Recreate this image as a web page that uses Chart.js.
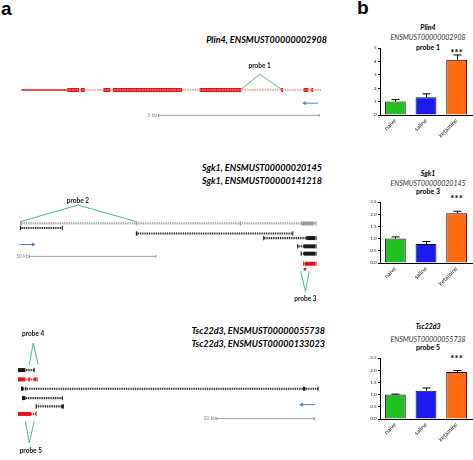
<!DOCTYPE html>
<html><head><meta charset="utf-8">
<script src="https://cdn.jsdelivr.net/npm/chart.js@4.4.1/dist/chart.umd.min.js"></script>
<style>
html,body{margin:0;padding:0;background:#fff;}
body{width:473px;height:460px;position:relative;overflow:hidden;font-family:Lato,"Liberation Sans",sans-serif;}
canvas{position:absolute;}
.t{position:absolute;white-space:nowrap;line-height:1;color:#000;}
.c{transform:translateX(-50%);}
</style></head><body>
<div class="t" style="left:1px;top:-2px;font:bold 19px 'Liberation Sans';">a</div>
<div class="t" style="left:357px;top:-3px;font:bold 19px 'Liberation Sans';">b</div>

<div class="t" style="right:146px;top:33.5px;font:italic bold 9px Lato;">Plin4, ENSMUST00000002908</div>
<div class="t" style="right:151px;top:161.5px;font:italic bold 9px Lato;">Sgk1, ENSMUST00000020145</div>
<div class="t" style="right:151px;top:174.5px;font:italic bold 9px Lato;">Sgk1, ENSMUST00000141218</div>
<div class="t" style="right:148px;top:324.5px;font:italic bold 9px Lato;">Tsc22d3, ENSMUST00000055738</div>
<div class="t" style="right:148px;top:337.5px;font:italic bold 9px Lato;">Tsc22d3, ENSMUST00000133023</div>

<div class="t c" style="left:428px;top:22.5px;font:italic bold 7px Lato;">Plin4</div>
<div class="t c" style="left:428px;top:32.5px;font:italic 7px Lato;color:#333;">ENSMUST00000002908</div>
<div class="t c" style="left:428px;top:42.5px;font:bold 7px Lato;">probe 1</div>
<div class="t c" style="left:428px;top:169px;font:italic bold 7px Lato;">Sgk1</div>
<div class="t c" style="left:428px;top:178.5px;font:italic 7px Lato;color:#333;">ENSMUST00000020145</div>
<div class="t c" style="left:428px;top:186.5px;font:bold 7px Lato;">probe 3</div>
<div class="t c" style="left:428px;top:322px;font:italic bold 7px Lato;">Tsc22d3</div>
<div class="t c" style="left:428px;top:334.5px;font:italic 7px Lato;color:#333;">ENSMUST00000055738</div>
<div class="t c" style="left:428px;top:342.5px;font:bold 7px Lato;">probe 5</div>

<canvas id="trkPlin4" width="360" height="80" style="left:0;top:50px"></canvas>
<canvas id="trkSgk1" width="360" height="120" style="left:0;top:190px"></canvas>
<canvas id="trkTsc" width="360" height="150" style="left:0;top:310px"></canvas>
<canvas id="barPlin4" width="105" height="107" style="left:368px;top:36px"></canvas>
<canvas id="barSgk1" width="105" height="103" style="left:368px;top:188px"></canvas>
<canvas id="barTsc" width="105" height="103" style="left:368px;top:344px"></canvas>

<script>
// ---------- panel b data ----------
const groups = ['naive', 'saline', 'ketamine'];
const plin4Means = [1.0, 1.33, 4.13];
const plin4Err = [0.15, 0.25, 0.35];
const plin4Ticks = ['0', '1', '2', '3', '4', '5'];
const sgk1Means = [1.0, 0.78, 2.04];
const sgk1Err = [0.07, 0.10, 0.08];
const tscMeans = [1.0, 1.16, 1.93];
const tscErr = [0.02, 0.11, 0.06];
const halfTicks = ['0.0', '0.5', '1.0', '1.5', '2.0', '2.5'];
const sigMarks = ['', '', '***'];

// ---------- panel a data (genomic positions in kb) ----------
const plin4Utr = [0, 1.42];
const plin4Span = [1.42, 9.33];
const plin4Exons = [[1.42,1.79],[1.85,1.97],[2.55,2.76],[2.85,5.0],[5.55,6.85],[8.09,8.15],[8.79,8.94],[9.03,9.09]];
const plin4ProbeX = [6.85, 7.42, 8.09];
const plin4Arrow = [9.24, 8.82];
const plin4Scale = [4.27, 9.27];

const sgk1Starts = [0, 0, 45.8, 96.2, 109.6, 111, 112];
const sgk1Ends = [116.9, 16.5, 107.7, 116.9, 116.9, 116.9, 116.9];
const sgk1Exons = [[[0,0.4],[45.6,46.1],[86.7,87.2],[111,116]], [], [[45.8,46.2]], [[113,116.5]], [[112,116.5]], [[112,116.5]], [[112.5,116.5]]];
const sgk1Probed = [false, false, false, false, false, false, true];
const sgk1Probe2X = [0, 22.7, 45.8];
const sgk1Probe3X = [110.8, 112.7, 114.2];
const sgk1Arrow = [-0.4, 5.0];
const sgk1Scale = [3.5, 53.5];

const tscStarts = [0, 0, 0.6, 0.8, 3.6, 0];
const tscEnds = [3.2, 3.8, 61.6, 9.0, 9.2, 3.6];
const tscExons = [[[0,1.4]], [[0,1.4],[2.0,2.3],[3.2,3.6]], [[0.6,1.0],[1.4,1.6],[58.5,59.0]], [[0.8,1.4]], [[8.8,9.2]], [[0,2.6]]];
const tscProbed = [false, true, false, false, false, true];
const tscProbe4X = [2.2, 3.0, 4.0];
const tscProbe5X = [1.4, 2.2, 3.2];
const tscArrow = [61.0, 58.2];
const tscScale = [40.8, 60.8];

// ---------- styles / layout ----------
const RED = '#e3141b', INTRON = '#f08585', BLACK = '#1a1a1a', GRAYT = '#9d9d9d';
const GREEN = '#20a860', BLUE = '#4f7fc0', SCALEGRAY = '#8a8a8a';
const barColors = ['#22c022', '#1c1cf2', '#ff6a14'];

function line(xs, ys, color, width, extra) {
  return Object.assign({
    data: xs.map((x, i) => ({ x, y: ys[i] })), showLine: true, borderColor: color,
    backgroundColor: color, borderWidth: width, pointRadius: 0, borderCapStyle: 'butt',
    borderJoinStyle: 'miter'
  }, extra || {});
}
function seg(span, row, color, width, extra) { return line(span, [row, row], color, width, extra); }
function ends(span, row, color, r) {
  return { data: span.map(x => ({ x, y: row })), showLine: false, pointStyle: 'line', pointRotation: 90,
    pointRadius: r, borderColor: color, backgroundColor: color, borderWidth: 1 };
}
function arrow(span, row) {
  const left = span[1] < span[0];
  return line(span, [row, row], BLUE, 1, { pointRadius: [0, 2], pointStyle: 'triangle',
    pointRotation: left ? -90 : 90, pointBorderWidth: 0.5 });
}
function scaleBar(span, row) {
  return [seg(span, row, SCALEGRAY, 0.8), ends(span, row, SCALEGRAY, 1.5)];
}
function textPlugin(items) {
  return { id: 'trackText', afterDatasetsDraw(chart) {
    const { ctx, scales: { x, y } } = chart; ctx.save();
    items.forEach(it => {
      ctx.font = it.font; ctx.fillStyle = it.color; ctx.textAlign = it.align || 'center';
      ctx.textBaseline = 'middle';
      ctx.fillText(it.text, x.getPixelForValue(it.x), y.getPixelForValue(it.y));
    });
    ctx.restore();
  } };
}
function makeTrack(id, xmin, xmax, ymax, datasets, labels) {
  return new Chart(document.getElementById(id), {
    type: 'scatter', data: { datasets },
    options: { responsive: false, animation: false, events: [], layout: { padding: 0 },
      plugins: { legend: { display: false }, tooltip: { enabled: false } },
      scales: { x: { type: 'linear', display: false, min: xmin, max: xmax },
                y: { type: 'linear', display: false, min: 0, max: ymax, reverse: true } } },
    plugins: [textPlugin(labels)]
  });
}
function transcripts(starts, endsA, exons, probed, rows, dashColor) {
  const out = [];
  starts.forEach((s, i) => {
    const span = [s, endsA[i]];
    const col = probed[i] ? RED : (dashColor[i] || BLACK);
    out.push(seg(span, rows[i], col, 2.2, { borderDash: [1, 0.8] }));
    exons[i].forEach(e => out.push(seg(e, rows[i], col, 4)));
    out.push(ends(span, rows[i], col, 2.2));
  });
  return out;
}
const probeFont = 'bold 6.5px Lato';
const kbFont = '5px Lato';

// Plin4 track
const plin4Row = 4;
makeTrack('trkPlin4', -0.515, 10.39, 8, [
  seg(plin4Span, plin4Row, INTRON, 1.6, { borderDash: [1.5, 1] }),
  seg(plin4Utr, plin4Row, RED, 1.6),
  ...plin4Exons.map(e => seg(e, plin4Row, RED, 4)),
  line(plin4ProbeX, [3.9, 2.2, 3.9], GREEN, 0.8),
  arrow(plin4Arrow, 5.5),
  ...scaleBar(plin4Scale, 6.9)
], [
  { text: 'probe 1', x: plin4ProbeX[1], y: 1.3, font: probeFont, color: '#111' },
  { text: '5 kb', x: plin4Scale[0] - 0.05, y: 6.9, font: kbFont, color: '#888', align: 'right' }
]);

// Sgk1 track
const sgk1Rows = [3.1, 3.6, 4.2, 4.7, 5.6, 6.4, 7.5];
makeTrack('trkSgk1', -6.15, 132.3, 12, [
  ...transcripts(sgk1Starts, sgk1Ends, sgk1Exons, sgk1Probed, sgk1Rows, [GRAYT]),
  seg([112, 113], 8.1, RED, 2.5),
  line(sgk1Probe2X, [2.9, 1.1, 2.9], GREEN, 0.8),
  line(sgk1Probe3X, [8.3, 10.5, 8.3], GREEN, 0.8),
  arrow(sgk1Arrow, 5.4),
  ...scaleBar(sgk1Scale, 6.7)
], [
  { text: 'probe 2', x: sgk1Probe2X[1], y: 0.6, font: probeFont, color: '#111' },
  { text: 'probe 3', x: sgk1Probe3X[1], y: 11.3, font: probeFont, color: '#111' },
  { text: '50 kb', x: sgk1Scale[0] - 0.3, y: 6.7, font: kbFont, color: '#888', align: 'right' }
]);

// Tsc22d3 track
const tscRows = [5.9, 6.9, 7.9, 8.9, 9.8, 10.6];
makeTrack('trkTsc', -2.8, 69.2, 15, [
  ...transcripts(tscStarts, tscEnds, tscExons, tscProbed, tscRows, []),
  line(tscProbe4X, [5.3, 3.0, 5.3], GREEN, 0.8),
  line(tscProbe5X, [11.4, 13.7, 11.4], GREEN, 0.8),
  arrow(tscArrow, 9.6),
  ...scaleBar(tscScale, 11.1)
], [
  { text: 'probe 4', x: tscProbe4X[1], y: 2.0, font: probeFont, color: '#111' },
  { text: 'probe 5', x: tscProbe5X[1] + 0.3, y: 14.6, font: probeFont, color: '#111' },
  { text: '20 kb', x: tscScale[0] - 0.2, y: 11.1, font: kbFont, color: '#888', align: 'right' }
]);

// ---------- bar charts ----------
function errPlugin(errs, marks, level) {
  return { id: 'errbars', afterDatasetsDraw(chart) {
    const { ctx, scales: { y } } = chart;
    const meta = chart.getDatasetMeta(0);
    const vals = chart.data.datasets[0].data;
    ctx.save(); ctx.strokeStyle = '#000'; ctx.lineWidth = 1;
    meta.data.forEach((bar, i) => {
      const top = y.getPixelForValue(vals[i] + errs[i]);
      const x = Math.round(bar.x) + 0.5;
      ctx.beginPath(); ctx.moveTo(x, bar.y); ctx.lineTo(x, top);
      ctx.moveTo(x - 4, top); ctx.lineTo(x + 4, top); ctx.stroke();
      if (marks[i]) {
        ctx.fillStyle = '#000'; ctx.font = 'bold 10px Lato'; ctx.textAlign = 'center';
        ctx.textBaseline = 'alphabetic';
        ctx.fillText(marks[i], bar.x, y.getPixelForValue(level) + 5);
      }
    });
    ctx.restore();
  } };
}
function makeBar(id, means, errs, max, step, ticks, level, padTop) {
  return new Chart(document.getElementById(id), {
    type: 'bar',
    data: { labels: groups, datasets: [{ data: means, backgroundColor: barColors, borderColor: '#111',
      borderWidth: 1, barPercentage: 0.68, categoryPercentage: 1 }] },
    options: {
      responsive: false, animation: false, events: [],
      layout: { padding: { top: padTop, right: 1, left: 0, bottom: 0 } },
      plugins: { legend: { display: false }, tooltip: { enabled: false } },
      scales: {
        x: { grid: { drawOnChartArea: false, drawTicks: false, color: '#000' },
             border: { color: '#000', width: 1 },
             ticks: { font: { size: 6, family: 'Lato' }, color: '#222', minRotation: 45, maxRotation: 45, padding: 2, autoSkip: false },
             afterFit(s) { s.height = 28; s.paddingLeft = 0; s.paddingRight = 0; } },
        y: { min: 0, max: max,
             ticks: { stepSize: step, font: { size: 4.5, family: 'Lato' }, color: '#222', padding: 1.5, callback: (v, i) => ticks[i] },
             grid: { drawOnChartArea: false, drawTicks: true, tickLength: 2, color: '#000' },
             border: { color: '#000', width: 1 },
             afterFit(s) { s.width = 12; s.paddingTop = 0; s.paddingBottom = 0; } }
      }
    },
    plugins: [errPlugin(errs, sigMarks, level)]
  });
}
makeBar('barPlin4', plin4Means, plin4Err, 5, 1, plin4Ticks, 4.75, 12);
makeBar('barSgk1', sgk1Means, sgk1Err, 2.5, 0.5, halfTicks, 2.7, 14);
makeBar('barTsc', tscMeans, tscErr, 2.5, 0.5, halfTicks, 2.55, 14);
</script>
</body></html>
